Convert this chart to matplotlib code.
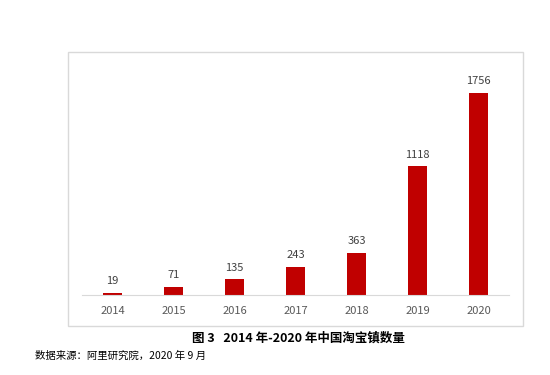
import matplotlib.pyplot as plt
from matplotlib.patches import Rectangle

plt.rcParams['font.family'] = ['Noto Sans CJK SC', 'DejaVu Sans']

years = ['2014', '2015', '2016', '2017', '2018', '2019', '2020']
counts = [19, 71, 135, 243, 363, 1118, 1756]

fig = plt.figure(figsize=(5.5, 3.75), dpi=100)
ax = fig.add_axes([82/550, 80/375, 427/550, 230/375])

bars = ax.bar(years, counts, width=0.31, color='#c00000')
for b, v in zip(bars, counts):
    ax.text(b.get_x() + b.get_width()/2, v + 60, str(v), ha='center', va='bottom',
            fontsize=8, color='#404040')

ax.set_ylim(0, 2000)
ax.set_xlim(-0.5, 6.5)
ax.set_yticks([])
for s in ['top', 'right', 'left']:
    ax.spines[s].set_visible(False)
ax.spines['bottom'].set_color('#d9d9d9')
ax.tick_params(axis='x', length=0, labelsize=8, labelcolor='#595959', pad=8)

# chart frame
fig.patches.append(Rectangle((68/550, 49/375), 455/550, 274/375, transform=fig.transFigure,
                             fill=False, edgecolor='#d9d9d9', lw=1))

fig.text(298/550, 1 - 338/375, '图 3   2014 年-2020 年中国淘宝镇数量', ha='center', va='center',
         fontsize=9, fontweight='bold', color='black')
fig.text(35/550, 1 - 356/375, '数据来源：阿里研究院，2020 年 9 月', ha='left', va='center',
         fontsize=7.5, color='black')

fig.savefig('out.png', dpi=100)
